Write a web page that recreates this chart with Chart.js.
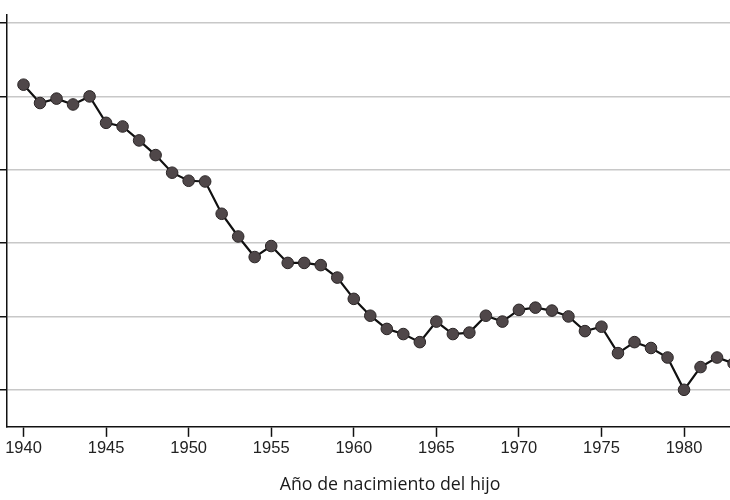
<!DOCTYPE html>
<html>
<head>
<meta charset="utf-8">
<script src="https://cdn.jsdelivr.net/npm/chart.js@4/dist/chart.umd.min.js"></script>
<style>
  html, body { margin: 0; padding: 0; background: #fff; }
  #wrap { width: 730px; height: 500px; overflow: hidden; position: relative; }
  canvas { display: block; }
</style>
</head>
<body>
<div id="wrap"><canvas id="c" width="780" height="500"></canvas></div>
<script>
const years = [1940,1941,1942,1943,1944,1945,1946,1947,1948,1949,1950,1951,1952,1953,1954,1955,1956,1957,1958,1959,1960,1961,1962,1963,1964,1965,1966,1967,1968,1969,1970,1971,1972,1973,1974,1975,1976,1977,1978,1979,1980,1981,1982,1983];
const values = [0.616,0.591,0.597,0.589,0.600,0.564,0.559,0.540,0.520,0.496,0.485,0.484,0.440,0.409,0.381,0.396,0.373,0.373,0.370,0.353,0.324,0.301,0.283,0.276,0.265,0.293,0.276,0.278,0.301,0.293,0.309,0.312,0.308,0.300,0.280,0.286,0.250,0.265,0.257,0.244,0.200,0.231,0.244,0.236];
const xTickValues = [1940,1945,1950,1955,1960,1965,1970,1975,1980];
const yTickValues = [0.2,0.3,0.4,0.5,0.6,0.7];
const xTitle = 'Año de nacimiento del hijo';

const points = years.map((y, i) => ({x: y, y: values[i]}));

new Chart(document.getElementById('c'), {
  type: 'line',
  data: {
    datasets: [{
      data: points,
      borderColor: '#111',
      borderWidth: 2.2,
      pointRadius: 5.8,
      pointBackgroundColor: '#4f4749',
      pointBorderColor: '#2a2526',
      pointBorderWidth: 1,
      tension: 0,
      fill: false
    }]
  },
  options: {
    responsive: false,
    animation: false,
    layout: { padding: { top: 15, bottom: 4, left: 0, right: 0 } },
    plugins: { legend: { display: false }, tooltip: { enabled: false } },
    scales: {
      x: {
        type: 'linear',
        min: 1939,
        max: 1985.4,
        afterBuildTicks: (s) => { s.ticks = xTickValues.map(v => ({value: v})); },
        grid: { display: true, drawOnChartArea: false, drawTicks: true, tickLength: 10, tickColor: '#111', tickWidth: 1.5 },
        border: { display: true, color: '#111', width: 1.5 },
        ticks: { color: '#222', padding: 2, font: { family: 'Liberation Sans', size: 16.5 }, maxRotation: 0, autoSkip: false, callback: (v) => String(v) },
        title: { display: true, text: xTitle, color: '#1a1a1a', font: { family: 'Open Sans', size: 17.8 }, padding: { top: 14, bottom: 0 } }
      },
      y: {
        type: 'linear',
        min: 0.1495,
        max: 0.711,
        afterBuildTicks: (s) => { s.ticks = yTickValues.map(v => ({value: v})); },
        grid: { display: true, color: '#c8c8c8', lineWidth: 1.5, drawTicks: true, tickLength: 7, tickColor: '#111', tickWidth: 1.5 },
        border: { display: true, color: '#111', width: 1.5 },
        ticks: { display: false }
      }
    }
  }
});
</script>
</body>
</html>
